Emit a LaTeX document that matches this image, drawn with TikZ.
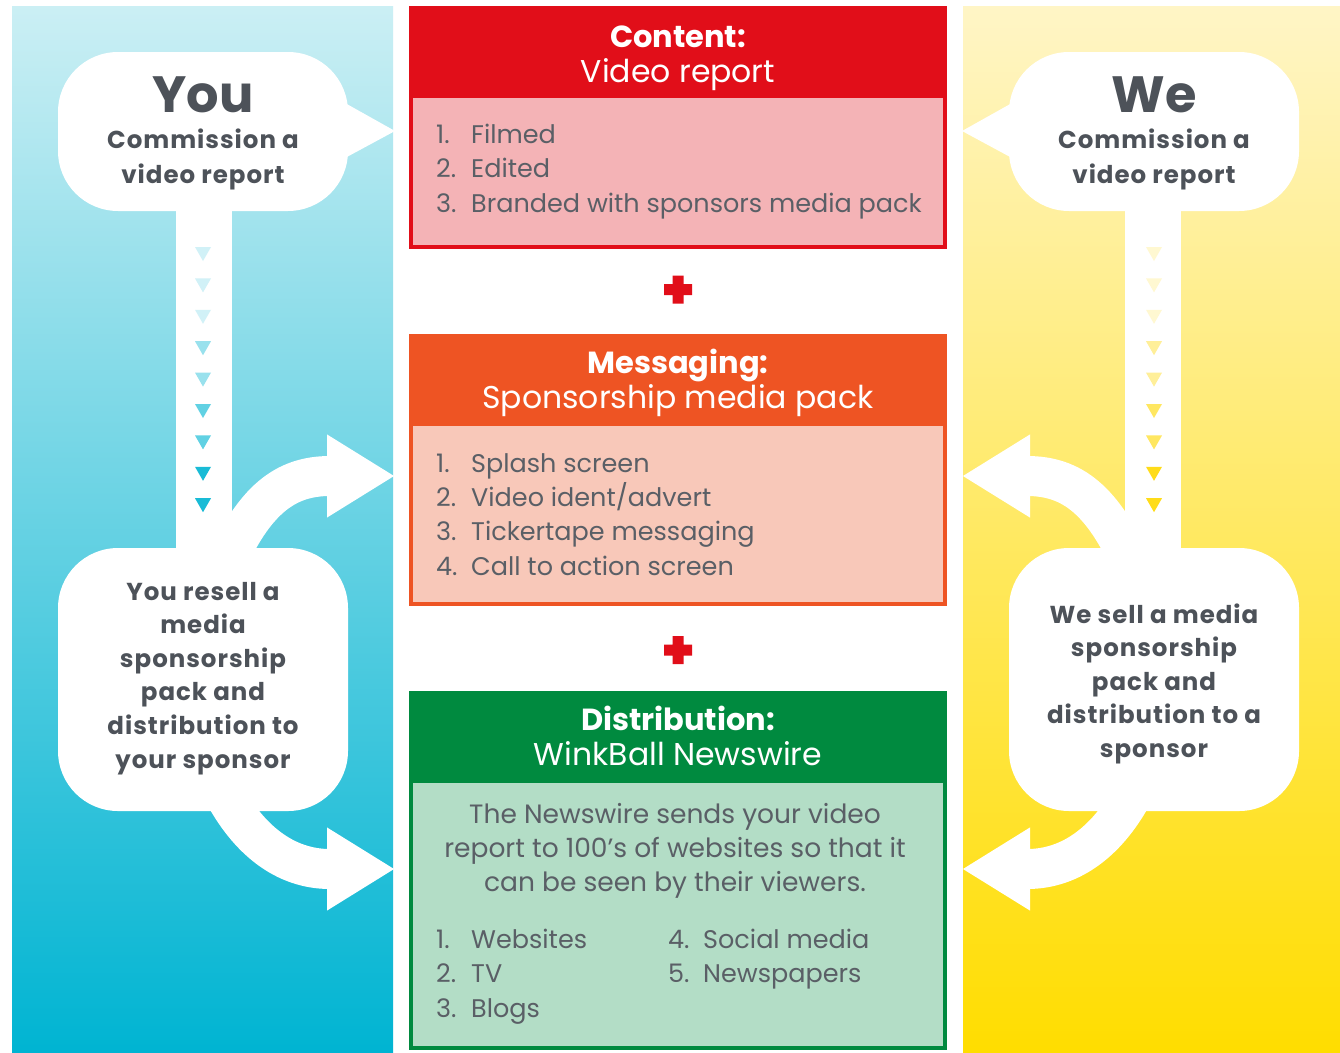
\documentclass[tikz,border=0pt]{standalone}
\usepackage{fontspec}
\setmainfont{Poppins}
\usetikzlibrary{positioning,arrows.meta}

\definecolor{inkgray}{HTML}{4D5259}
\definecolor{itemgray}{HTML}{5A5F66}
\definecolor{youpale}{HTML}{CBEFF4}
\definecolor{youcyan}{HTML}{00B4D2}
\definecolor{wepale}{HTML}{FFF5C6}
\definecolor{weyellow}{HTML}{FFDD00}
\definecolor{wetri}{HTML}{FFD800}
\definecolor{contentred}{HTML}{E10E19}
\definecolor{contentpink}{HTML}{F4B3B6}
\definecolor{msgorange}{HTML}{EE5423}
\definecolor{msgpeach}{HTML}{F8C8B9}
\definecolor{distgreen}{HTML}{008A3F}
\definecolor{distmint}{HTML}{B3DDC6}

\tikzset{
  bubble/.style={fill=white, rounded corners=60pt, minimum width=290pt, inner sep=0pt},
  bigname/.style={text=inkgray, anchor=base, inner sep=0pt, font=\fontsize{51}{51}\selectfont\bfseries},
  bubtext/.style={text=inkgray, anchor=base, inner sep=0pt, font=\fontsize{24.5}{28}\selectfont\bfseries\addfontfeature{LetterSpace=4}},
  card/.style={line width=4pt, inner sep=0pt},
  cardhead/.style={anchor=north, inner sep=0pt},
  headbold/.style={text=white, anchor=base, inner sep=0pt, font=\fontsize{30.5}{34}\selectfont\bfseries},
  headsub/.style={text=white, anchor=base, inner sep=0pt, font=\fontsize{31.5}{34}\selectfont},
  itemtxt/.style={text=itemgray, anchor=base west, inner sep=0pt, font=\fontsize{25.5}{30}\selectfont},
  paratxt/.style={text=itemgray, anchor=base, inner sep=0pt, font=\fontsize{26.5}{30}\selectfont},
  flowarrow/.style={white, line width=40pt, -{Triangle[length=68pt,width=78pt]}},
  redplus/.pic={\fill[contentred] (-5.5,-14) rectangle (5.5,14) (-14,-5.5) rectangle (14,5.5);}
}

\begin{document}
\begin{tikzpicture}[x=1pt,y=-1pt]
  \useasboundingbox (0,0) rectangle (1340,1052);
  \fill[white] (0,0) rectangle (1340,1052);

  % side panels
  \shade[top color=youpale, bottom color=youcyan] (12,6) rectangle (393,1052);
  \shade[top color=wepale, bottom color=weyellow] (963,6) rectangle (1340,1052);

  % bubbles, stems and arrows (right side is the mirror image)
  \foreach \side/\sx/\sh/\col in {you/1/0/youcyan, we/-1/1357/wetri}{
    \begin{scope}[xshift=\sh pt, xscale=\sx]
      \coordinate (\side up) at (395,476);
      \coordinate (\side down) at (395,869);
      \draw[flowarrow] (224,568) .. controls (254,500) and (285,476) .. (330,476) -- (\side up);
      \draw[flowarrow] (222,790) .. controls (248,840) and (285,869) .. (330,869) -- (\side down);
      \node[bubble, minimum height=159pt] (\side top) at (203,131.5) {};
      \node[bubble, minimum height=263pt] (\side low) at (203,679.5) {};
      \fill[white] (345,103) -- (395,131) -- (345,158) -- cycle;
      \fill[white] (176,205) rectangle (232,555);
      \foreach \k/\p in {0/18,1/18,2/18,3/40,4/40,5/62,6/62,7/90,8/90}
        \fill[\col!\p!white] (195,{247+31.4*\k}) -- (211,{247+31.4*\k}) -- (203,{261+31.4*\k}) -- cycle;
    \end{scope}
  }

  % bubble texts
  \node[bigname] (youname) at (203,112) {You};
  \node[bigname] (wename) at (1154,112) {We};
  \foreach \l [count=\k] in {Commission a, video report}{
    \node[bubtext] (youcom\k) at (203,{148+35*(\k-1)}) {\l};
    \node[bubtext] (wecom\k) at (1154,{148+35*(\k-1)}) {\l};
  }
  \foreach \l [count=\k] in {You resell a, media, sponsorship, pack and, distribution to, your sponsor}
    \node[bubtext] (resell\k) at (203,{600+33.6*(\k-1)}) {\l};
  \foreach \l [count=\k] in {We sell a media, sponsorship, pack and, distribution to a, sponsor}
    \node[bubtext] (sell\k) at (1154,{623+33.6*(\k-1)}) {\l};

  % cards
  \foreach \nm/\top/\bot/\hb/\edge/\body in {content/6/249/98/contentred/contentpink, msg/334/606/426/msgorange/msgpeach, dist/691/1050/783/distgreen/distmint}{
    \node[card, draw=\edge, fill=\body, minimum width=534pt, minimum height={\bot-\top-4}] (\nm) at (678,{(\top+\bot)/2}) {};
    \node[cardhead, fill=\edge, minimum width=538pt, minimum height={\hb-\top}] (\nm head) at (678,\top) {};
  }
  \foreach \nm/\y/\ttl/\sub in {content/47/Content:/Video report, msg/373/Messaging:/Sponsorship media pack, dist/730/Distribution:/WinkBall Newswire}{
    \node[headbold] (\nm ttl) at (678,\y) {\ttl};
    \node[headsub] (\nm sub) at (678,{\y+35}) {\sub};
  }

  % card items
  \foreach \t [count=\k] in {Filmed, Edited, Branded with sponsors media pack}{
    \node[itemtxt] (contentno\k) at (436,{143+34.5*(\k-1)}) {\k.};
    \node[itemtxt] (contentit\k) at (471,{143+34.5*(\k-1)}) {\t};
  }
  \foreach \t [count=\k] in {Splash screen, Video ident/advert, Tickertape messaging, Call to action screen}{
    \node[itemtxt] (msgno\k) at (436,{472+34.4*(\k-1)}) {\k.};
    \node[itemtxt] (msgit\k) at (471,{472+34.4*(\k-1)}) {\t};
  }
  \foreach \l [count=\k] in {The Newswire sends your video, report to 100’s of websites so that it, can be seen by their viewers.}
    \node[paratxt] (distpar\k) at (675,{823+34*(\k-1)}) {\l};
  \foreach \x/\n/\t/\y in {436/1/Websites/948, 436/2/TV/982, 436/3/Blogs/1017, 668/4/Social media/948, 668/5/Newspapers/982}{
    \node[itemtxt] (distno\n) at (\x,\y) {\n.};
    \node[itemtxt] (distit\n) at (\x+35,\y) {\t};
  }

  % plus signs
  \pic at (678,289.5) {redplus};
  \pic at (678,650) {redplus};
\end{tikzpicture}
\end{document}
